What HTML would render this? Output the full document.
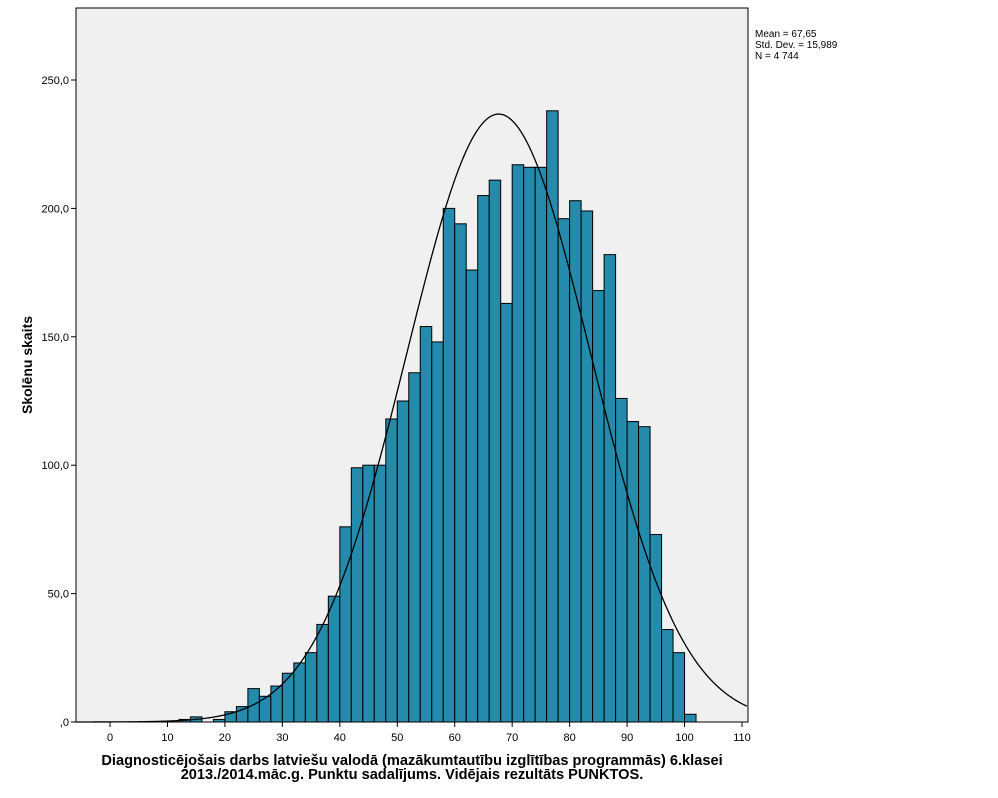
<!DOCTYPE html>
<html><head><meta charset="utf-8"><style>
body{margin:0;background:#fff;}
svg{display:block;font-family:"Liberation Sans",sans-serif;}
</style></head><body>
<svg id="chart" width="998" height="798">
<rect x="76" y="8" width="672" height="714" fill="#f0f0f0" stroke="#000" stroke-width="1"/>
<g id="bars"></g>
<path id="curve" fill="none" stroke="#000" stroke-width="1.3"/>
<g id="axes"></g>
<text x="755" y="37" font-size="10">Mean = 67,65</text>
<text x="755" y="48" font-size="10">Std. Dev. = 15,989</text>
<text x="755" y="59" font-size="10">N = 4 744</text>
<text transform="translate(32,365) rotate(-90)" text-anchor="middle" font-size="14" font-weight="bold">Skolēnu skaits</text>
<text x="412" y="765" text-anchor="middle" font-size="14.6" font-weight="bold">Diagnosticējošais darbs latviešu valodā (mazākumtautību izglītības programmās) 6.klasei</text>
<text x="412" y="779" text-anchor="middle" font-size="14.6" font-weight="bold">2013./2014.māc.g. Punktu sadalījums. Vidējais rezultāts PUNKTOS.</text>
</svg>
<script>
const binStarts=[12,14,16,18,20,22,24,26,28,30,32,34,36,38,40,42,44,46,48,50,52,54,56,58,60,62,64,66,68,70,72,74,76,78,80,82,84,86,88,90,92,94,96,98,100];
const counts=[1,2,0,1,4,6,13,10,14,19,23,27,38,49,76,99,100,100,118,125,136,154,148,200,194,176,205,211,163,217,216,216,238,196,203,199,168,182,126,117,115,73,36,27,3];
const xTicks=[0,10,20,30,40,50,60,70,80,90,100,110];
const yTicks=[0,50,100,150,200,250];
const yTickLabels=[",0","50,0","100,0","150,0","200,0","250,0"];
const mean=67.65, sd=15.989, N=4744, binW=2;
const NS="http://www.w3.org/2000/svg";
const xs=v=>110+v*(742-110)/110;
const ys=v=>722-v*(722-80)/250;
const bars=document.getElementById('bars');
binStarts.forEach((b,i)=>{
 if(counts[i]<=0)return;
 const r=document.createElementNS(NS,'rect');
 r.setAttribute('x',xs(b));r.setAttribute('width',xs(b+binW)-xs(b));
 r.setAttribute('y',ys(counts[i]));r.setAttribute('height',ys(0)-ys(counts[i]));
 r.setAttribute('fill','#248bad');r.setAttribute('stroke','#000');r.setAttribute('stroke-width','1');
 
 
 bars.appendChild(r);
});
let d='';
for(let v=-5.9;v<=111;v+=0.25){
 const y=N*binW/(sd*Math.sqrt(2*Math.PI))*Math.exp(-0.5*((v-mean)/sd)**2);
 d+=(d?'L':'M')+xs(v).toFixed(2)+','+ys(y).toFixed(2);
}
document.getElementById('curve').setAttribute('d',d);
const ax=document.getElementById('axes');
xTicks.forEach(t=>{
 const l=document.createElementNS(NS,'line');
 l.setAttribute('x1',xs(t));l.setAttribute('x2',xs(t));l.setAttribute('y1',722);l.setAttribute('y2',727);l.setAttribute('stroke','#000');
 
 
 ax.appendChild(l);
 const tx=document.createElementNS(NS,'text');
 tx.setAttribute('x',xs(t));tx.setAttribute('y',741);tx.setAttribute('text-anchor','middle');tx.setAttribute('font-size','11');
 tx.textContent=t;
 
 
 ax.appendChild(tx);
});
yTicks.forEach((t,i)=>{
 const l=document.createElementNS(NS,'line');
 l.setAttribute('x1',71);l.setAttribute('x2',76);l.setAttribute('y1',ys(t));l.setAttribute('y2',ys(t));l.setAttribute('stroke','#000');
 
 
 ax.appendChild(l);
 const tx=document.createElementNS(NS,'text');
 tx.setAttribute('x',69);tx.setAttribute('y',ys(t)+4);tx.setAttribute('text-anchor','end');tx.setAttribute('font-size','11');
 tx.textContent=yTickLabels[i];
 
 
 ax.appendChild(tx);
});
</script>
</body></html>
